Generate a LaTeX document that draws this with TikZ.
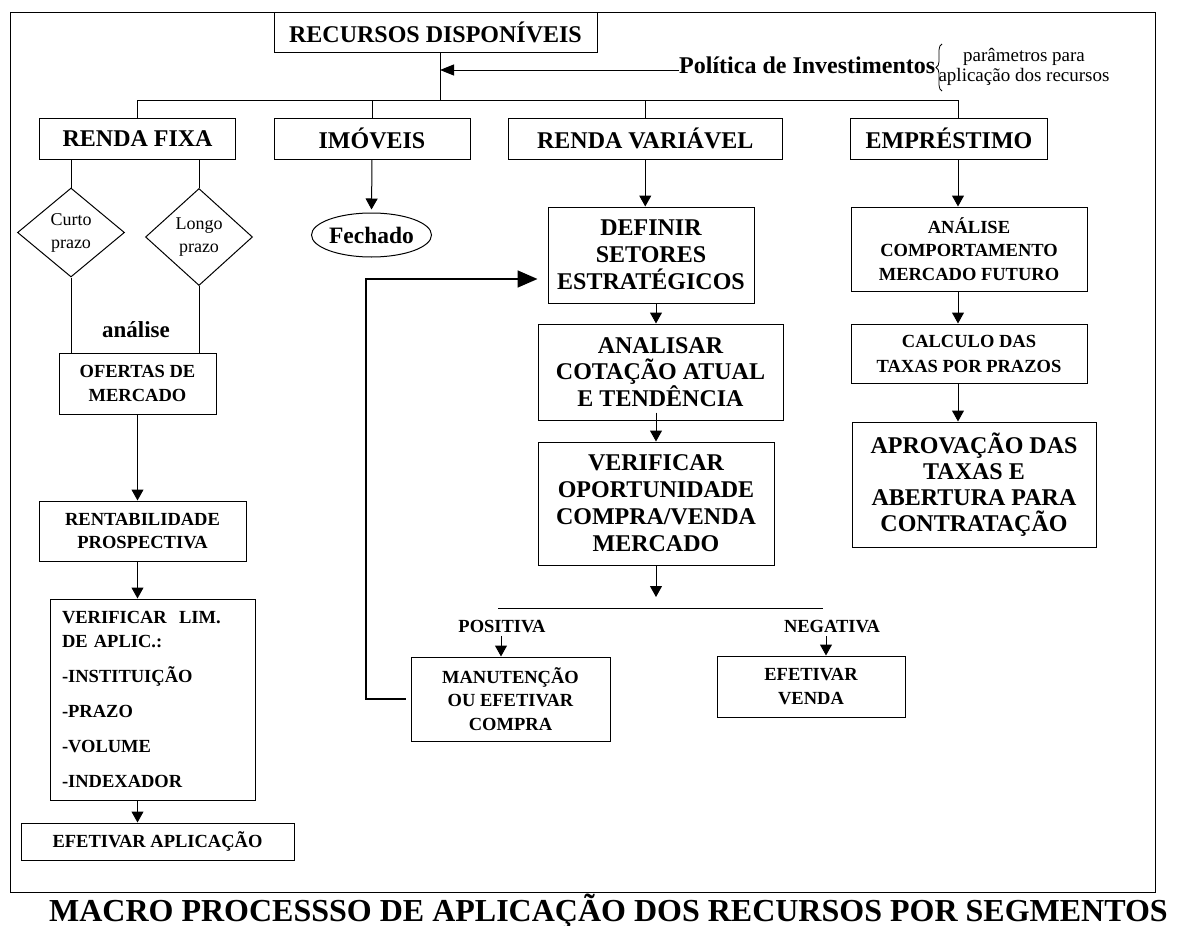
\documentclass[tikz,border=0pt]{standalone}
\usepackage{fontspec}
\setmainfont{Liberation Serif}
\usetikzlibrary{arrows.meta,shapes.geometric,decorations.pathreplacing}
\newcommand\setfs[2]{\fontsize{#1}{#2}\selectfont}

\begin{document}
\begin{tikzpicture}[x=1pt,y=-1pt,
  box/.style={draw, line width=1pt, inner sep=0pt, align=center},
  bigtxt/.style={font=\bfseries\setfs{24}{27}},
  smalltxt/.style={font=\bfseries\setfs{18.5}{23.5}},
  conn/.style={line width=1pt},
  arr/.style={conn, -{Triangle[length=11pt,width=12pt]}},
  bigarr/.style={line width=1.7pt, -{Triangle[length=20pt,width=17pt]}},
  decision/.style={draw, line width=1pt, shape=diamond, inner sep=0pt, align=center,
    font=\setfs{18}{23}},
  lbl/.style={inner sep=0pt, anchor=base}
]
\useasboundingbox (0,0) rectangle (1179,926);

% outer frame
\draw[line width=1pt] (10,12.3) rectangle (1155,892);

% top of the chart
\node[box, bigtxt, minimum width=323pt, minimum height=40pt] (rec) at (435.5,32.3) {RECURSOS DISPONÍVEIS};
\node[lbl, anchor=base west, bigtxt] (pol) at (679,73) {Política de Investimentos};
\node[inner sep=0pt, align=center, font=\setfs{19}{20.5}] (par) at (1024,67) {parâmetros para\\aplicação dos recursos};
\draw[line width=0.8pt, decorate, decoration={brace, amplitude=6pt}] (942,91) -- (942,44);

\coordinate (tr) at (440,100);
\coordinate (pj) at (440,70);
\coordinate (ex) at (958,0);
\coordinate (vx) at (656,0);

% segments
\node[box, bigtxt, minimum width=196pt, minimum height=41pt] (rf) at (137.6,138.5) {RENDA FIXA};
\node[box, bigtxt, minimum width=196pt, minimum height=41pt] (im) at (372,138.5) {IMÓVEIS};
\node[box, bigtxt, minimum width=274.5pt, minimum height=41pt] (rv) at (645.25,138.5) {RENDA VARIÁVEL};
\node[box, bigtxt, minimum width=197pt, minimum height=41pt] (em) at (949,138.5) {EMPRÉSTIMO};

\draw[conn] (rec.south -| tr) -- (tr);
\draw[conn, -{Triangle[length=14pt,width=11pt]}] (pol.base west |- pj) -- (pj);
\draw[conn] (rf.north |- tr) -- (ex |- tr);
\draw[conn] (rf.north |- tr) -- (rf.north);
\draw[conn] (im.north |- tr) -- (im.north);
\draw[conn] (rv.north |- tr) -- (rv.north);
\draw[conn] (ex |- tr) -- (ex |- em.north);

% renda fixa
\node[decision, minimum width=107pt, minimum height=89pt] (cp) at (71,232.5) {Curto\\prazo};
\node[decision, minimum width=107pt, minimum height=97pt] (lp) at (199,237) {Longo\\prazo};
\node[lbl, font=\bfseries\setfs{23}{25}] (ana1) at (136,337) {análise};
\node[box, smalltxt, minimum width=157pt, minimum height=61pt] (of) at (137.5,383.5) {OFERTAS DE\\MERCADO};
\node[box, smalltxt, minimum width=207pt, minimum height=60pt] (rent) at (142.5,531) {RENTABILIDADE\\PROSPECTIVA};
\node[box, font=\bfseries\setfs{18.5}{24}, text width=181pt, align=left,
      minimum width=205pt, minimum height=201pt] (lim) at (152.5,699.5)
  {VERIFICAR\ \ LIM.\\ DE APLIC.:\\[11pt] -INSTITUIÇÃO\\[11pt] -PRAZO\\[11pt] -VOLUME\\[11pt] -INDEXADOR};
\node[box, smalltxt, minimum width=273pt, minimum height=37pt] (efa) at (157.5,841.5) {EFETIVAR APLICAÇÃO};

\draw[conn] (rf.south -| cp.north) -- (cp.north);
\draw[conn] (rf.south -| lp.north) -- (lp.north);
\draw[conn] (cp.south) -- (cp.south |- of.north);
\draw[conn] (lp.south) -- (lp.south |- of.north);
\draw[arr] (of.south) -- (of.south |- rent.north);
\draw[arr] (of.south |- rent.south) -- (of.south |- lim.north);
\draw[arr] (of.south |- lim.south) -- (of.south |- efa.north);

% imoveis
\node[draw, line width=1pt, ellipse, inner sep=0pt, minimum width=117pt, minimum height=44pt,
      font=\bfseries\setfs{23.5}{25}] (fe) at (371.5,235) {Fechado};
\draw[arr, shorten >=3pt] (im.south) -- (fe.north);

% renda variavel
\node[box, bigtxt, minimum width=206pt, minimum height=96pt] (def) at (651,255) {DEFINIR\\SETORES\\ESTRATÉGICOS};
\node[box, font=\bfseries\setfs{24}{26.5}, minimum width=245pt, minimum height=96pt] (an) at (660.5,372) {ANALISAR\\COTAÇÃO ATUAL\\E TENDÊNCIA};
\node[box, bigtxt, minimum width=236pt, minimum height=123pt] (vo) at (656,503.5) {VERIFICAR\\OPORTUNIDADE\\COMPRA/VENDA\\MERCADO};
\coordinate (vend) at (656,597);
\coordinate (hla) at (498,608);
\coordinate (hlb) at (823,608);
\node[lbl, font=\bfseries\setfs{18.5}{20}] (pos) at (502,632) {POSITIVA};
\node[lbl, font=\bfseries\setfs{18.5}{20}] (neg) at (832,632) {NEGATIVA};
\node[box, smalltxt, minimum width=199pt, minimum height=84pt] (mc) at (510.5,699) {MANUTENÇÃO\\OU EFETIVAR\\COMPRA};
\node[box, font=\bfseries\setfs{18.5}{24}, minimum width=188pt, minimum height=61pt] (ev) at (811,686.5) {EFETIVAR\\VENDA};
\coordinate (fbl) at (366,279);

\draw[arr] (rv.south) -- (rv.south |- def.north);
\draw[arr] (def.south -| vx) -- (an.north -| vx);
\draw[arr, shorten <=-8pt] (an.south -| vx) -- (vo.north -| vx);
\draw[arr] (vo.south -| vx) -- (vend);
\draw[conn] (hla) -- (hlb);
\draw[arr, shorten <=4pt] ([xshift=-1pt]pos.south) -- ([xshift=-1pt]pos.south |- mc.north);
\draw[arr, shorten <=4pt] ([xshift=-6pt]neg.south) -- ([xshift=-6pt]neg.south |- ev.north);
\draw[bigarr, shorten >=10pt] ([xshift=-5pt]mc.west) -| (fbl) -- (def.west |- fbl);

% emprestimo
\node[box, smalltxt, minimum width=236pt, minimum height=84pt] (anf) at (969,249) {ANÁLISE\\COMPORTAMENTO\\MERCADO FUTURO};
\node[box, font=\bfseries\setfs{18.5}{25}, minimum width=236pt, minimum height=59pt] (calc) at (969,353.5) {CALCULO DAS\\TAXAS POR PRAZOS};
\node[box, font=\bfseries\setfs{24}{26}, minimum width=244pt, minimum height=125pt] (apr) at (974,484.5) {APROVAÇÃO DAS\\TAXAS E\\ABERTURA PARA\\CONTRATAÇÃO};

\draw[arr] (ex |- em.south) -- (ex |- anf.north);
\draw[arr] (ex |- anf.south) -- (ex |- calc.north);
\draw[arr] (ex |- calc.south) -- (ex |- apr.north);

% caption
\node[lbl, font=\bfseries\setfs{32}{34}] (title) at (608.5,921) {MACRO PROCESSSO DE APLICAÇÃO DOS RECURSOS POR SEGMENTOS};
\end{tikzpicture}
\end{document}
